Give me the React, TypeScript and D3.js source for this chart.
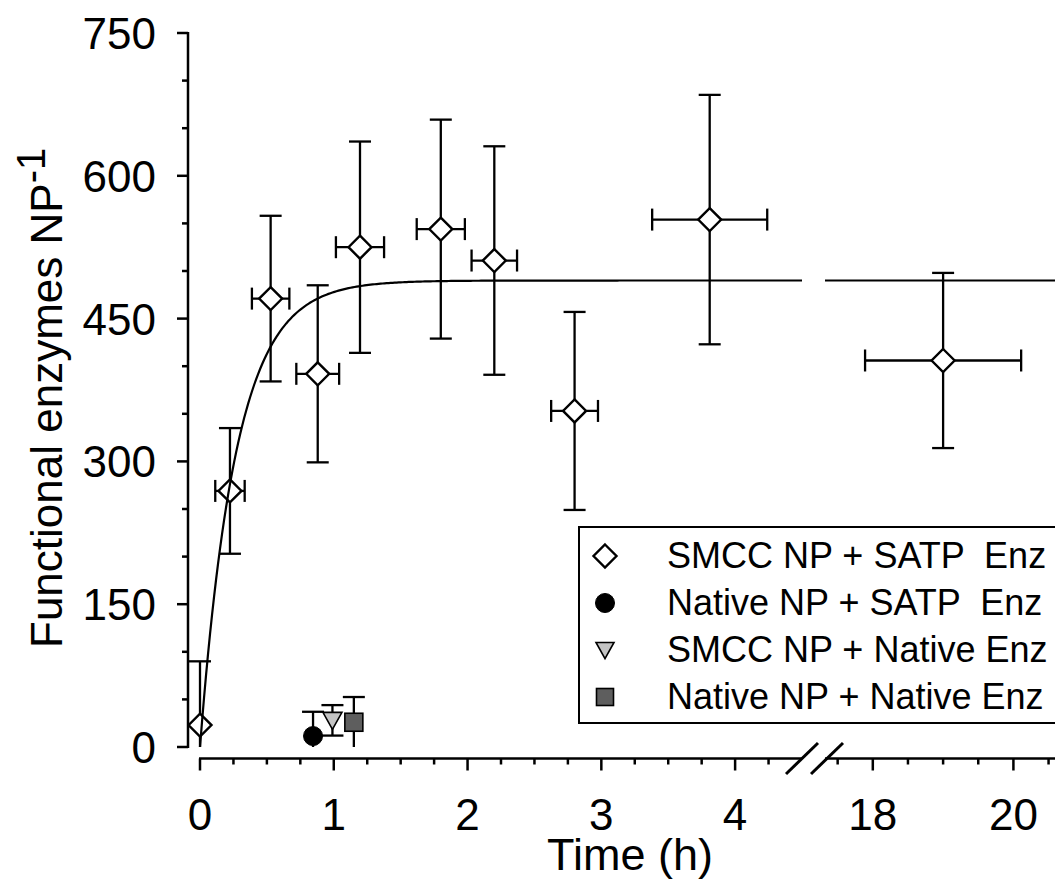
import React from 'react';
import * as d3 from 'd3';

const W = 1055;
const H = 879;

// SMCC NP + SATP Enz (open diamonds)
const smccSatpTime = [0, 0.224, 0.528, 0.88, 1.196, 1.8, 2.2, 2.8, 3.81, 19.0];
const smccSatpValue = [23, 269, 471, 392, 525, 544, 511, 353, 554, 406];
const smccSatpYErr = [67, 66, 87, 93, 111, 115, 120, 104, 131, 92];
const smccSatpXErr = [0, 0.11, 0.14, 0.16, 0.18, 0.18, 0.17, 0.175, 0.43, 1.11];

// Native NP + SATP Enz (black circle)
const nativeSatpTime = [0.845];
const nativeSatpValue = [11.5];
const nativeSatpYErr = [25.5];

// SMCC NP + Native Enz (grey triangle)
const smccNativeTime = [0.99];
const smccNativeValue = [28];
const smccNativeYErr = [16];

// Native NP + Native Enz (dark grey square)
const nativeNativeTime = [1.15];
const nativeNativeValue = [26];
const nativeNativeYErr = [26.5];

// exponential rise fit: plateau * (1 - exp(-rate * t))
const fitPlateau = 490;
const fitRate = 3.7;

const legendLabels = [
  'SMCC NP + SATP  Enz',
  'Native NP + SATP  Enz',
  'SMCC NP + Native Enz',
  'Native NP + Native Enz',
];

const yTickLabels = [0, 150, 300, 450, 600, 750];
const xTickLabelsLeft = [0, 1, 2, 3, 4];
const xTickLabelsRight = [18, 20];

const FONT = 'Arial, "Liberation Sans", sans-serif';

export default function App() {
  const xL = d3.scaleLinear().domain([0, 4.5]).range([200, 802]);
  const xR = d3.scaleLinear().domain([17.32, 20.62]).range([825, 1057]);
  const y = d3.scaleLinear().domain([0, 750]).range([747, 33]);
  const xPos = (t: number) => (t <= 10 ? xL(t) : xR(t));
  const axisY = 758.5;
  const axisX = 188;
  const sw = 2.5;
  const cap = 11;

  const fit = (t: number) => fitPlateau * (1 - Math.exp(-fitRate * t));
  const line = d3
    .line<number>()
    .x((t) => xPos(t))
    .y((t) => y(fit(t)));
  const leftTs = d3.range(0, 4.5 + 1e-9, 4.5 / 300);
  const rightTs = d3.range(17.32, 20.62 + 1e-9, 3.3 / 100);

  const yTicks = d3.range(0, 751, 50);
  const xTicksL = d3.range(0, 4.3, 0.25);
  const xTicksR = d3.range(17.5, 20.6, 0.5);

  const errBars = (
    ts: number[],
    vs: number[],
    ye: number[],
    xe: number[] | null,
    key: string
  ) =>
    ts.map((t, i) => {
      const cx = xPos(t);
      const cy = y(vs[i]);
      const top = y(vs[i] + ye[i]);
      const botVal = vs[i] - ye[i];
      const bot = y(Math.max(0, botVal));
      const els: React.ReactNode[] = [];
      els.push(<line key={key + 'v' + i} x1={cx} x2={cx} y1={top} y2={bot} />);
      els.push(<line key={key + 'ct' + i} x1={cx - cap} x2={cx + cap} y1={top} y2={top} />);
      if (botVal > 0) {
        els.push(<line key={key + 'cb' + i} x1={cx - cap} x2={cx + cap} y1={bot} y2={bot} />);
      }
      if (xe && xe[i] > 0) {
        const l = xPos(t - xe[i]);
        const r = xPos(t + xe[i]);
        els.push(<line key={key + 'h' + i} x1={l} x2={r} y1={cy} y2={cy} />);
        els.push(<line key={key + 'cl' + i} x1={l} x2={l} y1={cy - cap} y2={cy + cap} />);
        els.push(<line key={key + 'cr' + i} x1={r} x2={r} y1={cy - cap} y2={cy + cap} />);
      }
      return els;
    });

  const diamond = (cx: number, cy: number, r: number, k: string) => (
    <path
      key={k}
      d={`M${cx},${cy - r}L${cx + r},${cy}L${cx},${cy + r}L${cx - r},${cy}Z`}
      fill="#fff"
      stroke="#000"
      strokeWidth={2.4}
    />
  );
  const circle = (cx: number, cy: number, r: number, k: string) => (
    <circle key={k} cx={cx} cy={cy} r={r} fill="#000" stroke="#000" strokeWidth={1} />
  );
  const triangle = (cx: number, cy: number, s: number, k: string) => (
    <path
      key={k}
      d={`M${cx - s / 2},${cy - s * 0.42}L${cx + s / 2},${cy - s * 0.42}L${cx},${cy + s * 0.48}Z`}
      fill="#c4c4c4"
      stroke="#000"
      strokeWidth={1.6}
    />
  );
  const square = (cx: number, cy: number, s: number, k: string) => (
    <rect key={k} x={cx - s / 2} y={cy - s / 2} width={s} height={s} fill="#5e5e5e" stroke="#000" strokeWidth={1.6} />
  );

  const legendX = 579;
  const legendY = 527;
  const legendRow = 47;
  const legendFirst = 556;

  return (
    <svg
      width={W}
      height={H}
      style={{ position: 'absolute', left: 0, top: 0, background: '#fff' }}
      fontFamily={FONT}
    >
      <defs>
        <clipPath id="plotclip">
          <rect x={188} y={20} width={W} height={747 - 20} />
        </clipPath>
      </defs>
      {/* y axis */}
      <g stroke="#000" strokeWidth={sw}>
        <line x1={axisX} x2={axisX} y1={y(750) - 1} y2={y(0) + 1} />
        {yTicks.map((v) => (
          <line key={'yt' + v} x1={axisX} x2={axisX - (v % 150 === 0 ? 11 : 6)} y1={y(v)} y2={y(v)} />
        ))}
      </g>
      <g fontSize={44} textAnchor="end" fill="#000">
        {yTickLabels.map((v) => (
          <text key={'yl' + v} x={156} y={y(v) + 16}>
            {v}
          </text>
        ))}
      </g>
      {/* x axis */}
      <g stroke="#000" strokeWidth={sw}>
        <line x1={xL(0) - 1} x2={802} y1={axisY} y2={axisY} />
        <line x1={825} x2={1060} y1={axisY} y2={axisY} />
        {xTicksL.map((t) => (
          <line
            key={'xtl' + t}
            x1={xL(t)}
            x2={xL(t)}
            y1={axisY}
            y2={axisY + (Math.abs(t - Math.round(t)) < 1e-6 ? 12 : 6)}
          />
        ))}
        {xTicksR.map((t) => (
          <line
            key={'xtr' + t}
            x1={xR(t)}
            x2={xR(t)}
            y1={axisY}
            y2={axisY + (Math.abs(t % 2) < 1e-6 ? 12 : 6)}
          />
        ))}
      </g>
      {/* axis break marks */}
      <g stroke="#000" strokeWidth={3}>
        <line x1={786} y1={774} x2={818} y2={743} />
        <line x1={811} y1={774} x2={843} y2={743} />
      </g>
      <g fontSize={44} textAnchor="middle" fill="#000">
        {xTickLabelsLeft.map((t) => (
          <text key={'xl' + t} x={xL(t)} y={830}>
            {t}
          </text>
        ))}
        {xTickLabelsRight.map((t) => (
          <text key={'xr' + t} x={xR(t)} y={830}>
            {t}
          </text>
        ))}
      </g>
      {/* axis titles */}
      <text x={630} y={870} fontSize={45} textAnchor="middle" fill="#000">
        Time (h)
      </text>
      <text transform="translate(62,648) rotate(-90)" fontSize={44} fill="#000">
        Functional enzymes NP
        <tspan fontSize={40} dy={-17}>
          -1
        </tspan>
      </text>

      {/* data */}
      <g clipPath="url(#plotclip)">
        <g stroke="#000" strokeWidth={2.3} fill="none">
          {errBars(smccSatpTime, smccSatpValue, smccSatpYErr, smccSatpXErr, 'a')}
          {errBars(nativeSatpTime, nativeSatpValue, nativeSatpYErr, null, 'b')}
          {errBars(smccNativeTime, smccNativeValue, smccNativeYErr, null, 'c')}
          {errBars(nativeNativeTime, nativeNativeValue, nativeNativeYErr, null, 'd')}
        </g>
        {smccSatpTime.map((t, i) => diamond(xPos(t), y(smccSatpValue[i]), 11.5, 'dm' + i))}
        {nativeSatpTime.map((t, i) => circle(xPos(t), y(nativeSatpValue[i]), 9.5, 'ci' + i))}
        {smccNativeTime.map((t, i) => triangle(xPos(t), y(smccNativeValue[i]), 19, 'tr' + i))}
        {nativeNativeTime.map((t, i) => square(xPos(t), y(nativeNativeValue[i]), 18, 'sq' + i))}
        <path d={line(leftTs) || ''} fill="none" stroke="#000" strokeWidth={2.2} />
        <path d={line(rightTs) || ''} fill="none" stroke="#000" strokeWidth={2.2} />
      </g>

      {/* legend */}
      <rect
        x={legendX}
        y={legendY}
        width={W - legendX + 10}
        height={723 - legendY}
        fill="#fff"
        stroke="#000"
        strokeWidth={2}
      />
      {diamond(605, legendFirst, 11.5, 'ld')}
      {circle(605, legendFirst + legendRow, 9.5, 'lc')}
      {triangle(605, legendFirst + legendRow * 2, 18, 'lt')}
      {square(605, legendFirst + legendRow * 3, 17, 'ls')}
      <g fontSize={36} fill="#000">
        {legendLabels.map((s, i) => (
          <text key={'lg' + i} x={667} y={legendFirst + legendRow * i + 12} style={{ whiteSpace: 'pre' }}>
            {s}
          </text>
        ))}
      </g>
    </svg>
  );
}
